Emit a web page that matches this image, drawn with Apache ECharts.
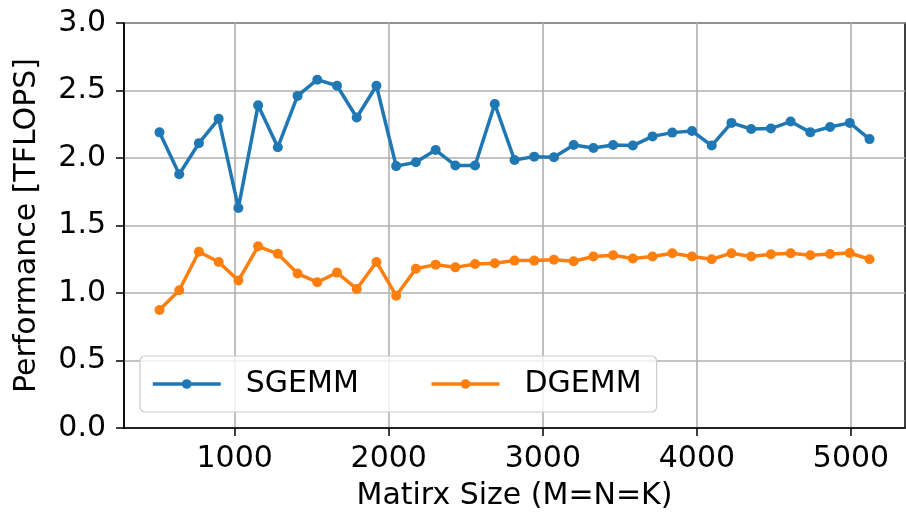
<!DOCTYPE html>
<html>
<head>
<meta charset="utf-8">
<script src="https://cdn.jsdelivr.net/npm/echarts@6/dist/echarts.min.js"></script>
<style>
html,body{margin:0;padding:0;background:#fff;}
#chart{width:906px;height:521px;}
</style>
</head>
<body>
<div id="chart"></div>
<script>
const sizes = [512,640,768,896,1024,1152,1280,1408,1536,1664,1792,1920,2048,2176,2304,2432,2560,2688,2816,2944,3072,3200,3328,3456,3584,3712,3840,3968,4096,4224,4352,4480,4608,4736,4864,4992,5120];
const sgemm = [2.19,1.88,2.11,2.29,1.63,2.39,2.08,2.46,2.58,2.535,2.30,2.535,1.94,1.968,2.059,1.945,1.945,2.40,1.985,2.01,2.005,2.096,2.074,2.096,2.092,2.16,2.188,2.20,2.092,2.26,2.215,2.218,2.27,2.19,2.23,2.26,2.14];
const dgemm = [0.874,1.02,1.306,1.23,1.092,1.346,1.29,1.144,1.08,1.151,1.03,1.23,0.98,1.18,1.21,1.19,1.215,1.22,1.24,1.24,1.247,1.235,1.27,1.28,1.255,1.27,1.295,1.27,1.25,1.295,1.27,1.287,1.295,1.28,1.289,1.296,1.25];
const xTicks = [1000,2000,3000,4000,5000];
const yTicks = [0,0.5,1.0,1.5,2.0,2.5,3.0];

const FONT = 'DejaVu Sans';
const chart = echarts.init(document.getElementById('chart'));
const pair = (xs, ys) => xs.map((x, i) => [x, ys[i]]);

chart.setOption({
  animation: false,
  backgroundColor: '#ffffff',
  grid: {
    left: 124, right: 1, top: 23, bottom: 93,
    show: true, borderColor: '#000', borderWidth: 1.5, backgroundColor: 'transparent'
  },
  legend: {
    left: 140, top: 356,
    orient: 'horizontal',
    padding: [13, 15, 13, 11],
    itemWidth: 68, itemHeight: 12,
    itemGap: 71,
    backgroundColor: 'rgba(255,255,255,0.8)',
    borderColor: '#cccccc', borderWidth: 1.2, borderRadius: 5,
    lineStyle: { width: 3.5 },
    textStyle: { fontFamily: FONT, fontSize: 30, color: '#000', padding: [0, 0, 0, 20] },
    data: ['SGEMM', 'DGEMM']
  },
  xAxis: {
    type: 'value',
    min: 281.6, max: 5350.4,
    name: 'Matirx Size (M=N=K)',
    nameLocation: 'middle', nameGap: 53,
    nameTextStyle: { fontFamily: FONT, fontSize: 30, color: '#000' },
    axisLine: { show: true, onZero: false, lineStyle: { color: '#000', width: 1.5 } },
    axisTick: { show: true, inside: false, length: 8, customValues: xTicks, lineStyle: { color: '#000', width: 1.5 } },
    axisLabel: { show: true, customValues: xTicks, margin: 16, fontFamily: FONT, fontSize: 30, color: '#000', formatter: v => String(v) },
    splitLine: { show: true, lineStyle: { color: '#b0b0b0', width: 1.6 } }
  },
  yAxis: {
    type: 'value',
    min: 0, max: 3, interval: 0.5,
    name: 'Performance [TFLOPS]',
    nameLocation: 'middle', nameGap: 82, nameRotate: 90,
    nameTextStyle: { fontFamily: FONT, fontSize: 30, color: '#000' },
    axisLine: { show: true, lineStyle: { color: '#000', width: 1.5 } },
    axisTick: { show: true, inside: false, length: 8, lineStyle: { color: '#000', width: 1.5 } },
    axisLabel: { margin: 18, fontFamily: FONT, fontSize: 30, color: '#000', formatter: v => v.toFixed(1) },
    splitLine: { show: true, lineStyle: { color: '#b0b0b0', width: 1.6 } }
  },
  series: [
    {
      name: 'SGEMM', type: 'line', data: pair(sizes, sgemm),
      symbol: 'circle', symbolSize: 10, showAllSymbol: true,
      itemStyle: { color: '#1f77b4' },
      lineStyle: { color: '#1f77b4', width: 3.5 }, z: 3
    },
    {
      name: 'DGEMM', type: 'line', data: pair(sizes, dgemm),
      symbol: 'circle', symbolSize: 10, showAllSymbol: true,
      itemStyle: { color: '#ff7f0e' },
      lineStyle: { color: '#ff7f0e', width: 3.5 }, z: 4
    }
  ]
});
</script>
</body>
</html>
